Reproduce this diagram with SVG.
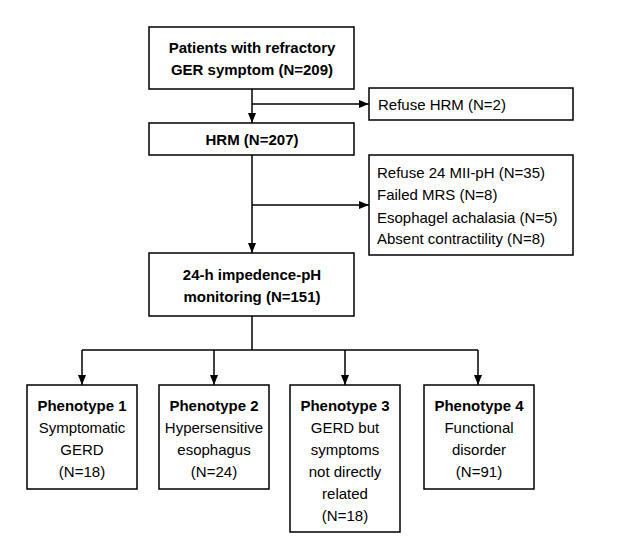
<svg xmlns="http://www.w3.org/2000/svg" width="640" height="560" viewBox="0 0 640 560">
<defs>
<marker id="ah" markerWidth="10" markerHeight="8" refX="10" refY="4" orient="auto" markerUnits="userSpaceOnUse"><path d="M0,0 L10,4 L0,8 Z" fill="#000"/></marker>
<style>
rect{fill:#fff;stroke:#000;stroke-width:1.5}
text{font-family:"Liberation Sans",Arial,sans-serif;font-size:15px;fill:#000}
.b{font-weight:bold}
.c{text-anchor:middle}
.l{stroke:#000;stroke-width:1.5;fill:none}
</style>
</defs>
<rect x="0" y="0" width="640" height="560" style="stroke:none"/>
<g id="connectors">
<line class="l" x1="252" y1="89" x2="252" y2="123" marker-end="url(#ah)"/>
<line class="l" x1="252" y1="104" x2="369" y2="104" marker-end="url(#ah)"/>
<line class="l" x1="252" y1="155" x2="252" y2="253" marker-end="url(#ah)"/>
<line class="l" x1="252" y1="205" x2="369" y2="205" marker-end="url(#ah)"/>
<line class="l" x1="252" y1="316" x2="252" y2="350"/>
<line class="l" x1="82" y1="350" x2="478" y2="350"/>
<line class="l" x1="82" y1="350" x2="82" y2="385" marker-end="url(#ah)"/>
<line class="l" x1="214" y1="350" x2="214" y2="385" marker-end="url(#ah)"/>
<line class="l" x1="345" y1="350" x2="345" y2="385" marker-end="url(#ah)"/>
<line class="l" x1="478" y1="350" x2="478" y2="385" marker-end="url(#ah)"/>
</g>
<g id="start"><rect x="149" y="27" width="205" height="62"/>
<text class="b c" x="252" y="53">Patients with refractory</text>
<text class="b c" x="252" y="75">GER symptom (N=209)</text></g>
<g id="refuse"><rect x="369" y="88" width="204" height="32"/>
<text x="378" y="110">Refuse HRM (N=2)</text></g>
<g id="hrm"><rect x="149" y="123" width="205" height="32"/>
<text class="b c" x="252" y="145">HRM (N=207)</text></g>
<g id="excluded"><rect x="369" y="155" width="204" height="100"/>
<text x="377" y="178">Refuse 24 MII-pH (N=35)</text>
<text x="377" y="200">Failed MRS (N=8)</text>
<text x="377" y="223">Esophagel achalasia (N=5)</text>
<text x="377" y="244">Absent contractility (N=8)</text></g>
<g id="mon"><rect x="149" y="253" width="205" height="63"/>
<text class="b c" x="252" y="280">24-h impedence-pH</text>
<text class="b c" x="252" y="302">monitoring (N=151)</text></g>
<g id="p1"><rect x="27" y="385" width="110" height="104"/>
<text class="b c" x="82" y="411">Phenotype 1</text>
<text class="c" x="82" y="433">Symptomatic</text>
<text class="c" x="82" y="455">GERD</text>
<text class="c" x="82" y="477">(N=18)</text></g>
<g id="p2"><rect x="159" y="385" width="110" height="104"/>
<text class="b c" x="214" y="411">Phenotype 2</text>
<text class="c" x="214" y="433">Hypersensitive</text>
<text class="c" x="214" y="455">esophagus</text>
<text class="c" x="214" y="477">(N=24)</text></g>
<g id="p3"><rect x="290" y="385" width="110" height="147"/>
<text class="b c" x="345" y="411">Phenotype 3</text>
<text class="c" x="345" y="433">GERD but</text>
<text class="c" x="345" y="455">symptoms</text>
<text class="c" x="345" y="477">not directly</text>
<text class="c" x="345" y="499">related</text>
<text class="c" x="345" y="521">(N=18)</text></g>
<g id="p4"><rect x="424" y="385" width="110" height="104"/>
<text class="b c" x="479" y="411">Phenotype 4</text>
<text class="c" x="479" y="433">Functional</text>
<text class="c" x="479" y="455">disorder</text>
<text class="c" x="479" y="477">(N=91)</text></g>
</svg>
